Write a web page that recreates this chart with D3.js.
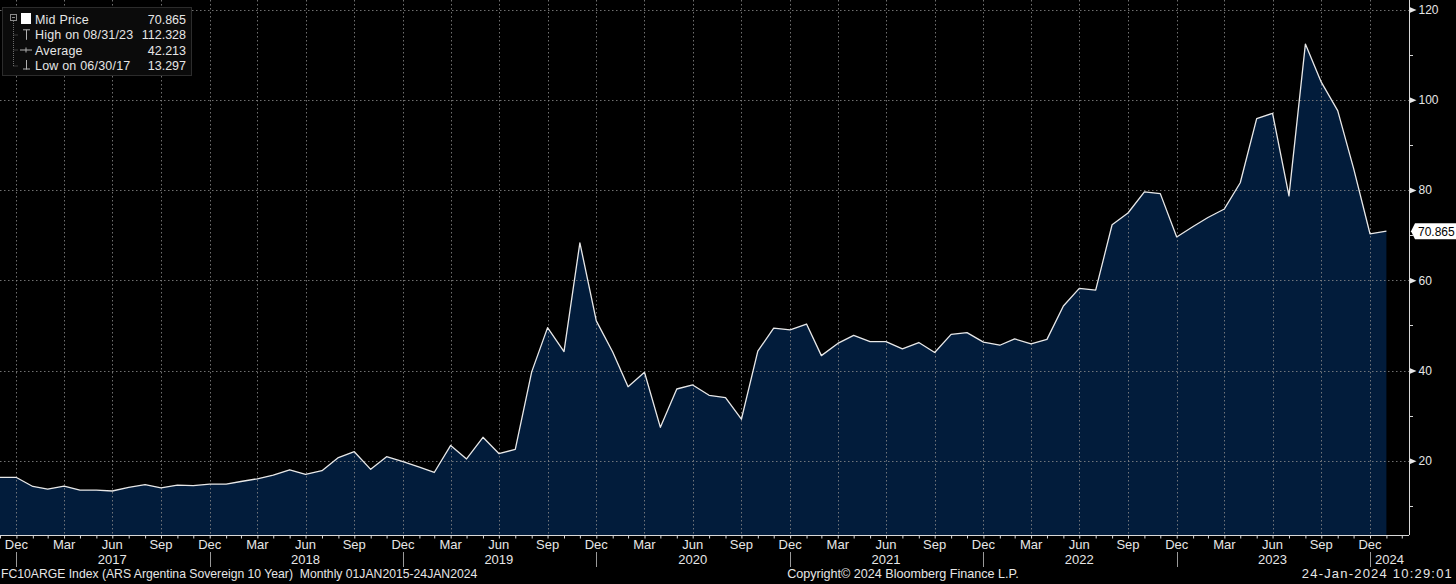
<!DOCTYPE html>
<html>
<head>
<meta charset="utf-8">
<script src="https://cdn.jsdelivr.net/npm/d3@7"></script>
<style>
  body { margin: 0; background: #000; }
  svg { display: block; }
  text { font-family: "Liberation Sans", Arial, sans-serif; fill: #e6e6e6; }
  .narrow { font-family: "Liberation Sans Narrow", "Liberation Sans", Arial, sans-serif; font-stretch: condensed; }
  .grid line { stroke: #8c8c8c; stroke-dasharray: 1.5,2.5; stroke-opacity: 0.8; }
</style>
</head>
<body>
<div id="chart"></div>
<script>
// first month shown, then one value per month (month-end close)
const startMonth = '2016-11-01';
const midPrice = [
  16.3, 16.3,
  14.3, 13.7, 14.4, 13.5, 13.5, 13.297, 14.1, 14.7, 14.0, 14.6, 14.5, 14.8,
  14.8, 15.4, 16.0, 16.8, 18.0, 17.0, 17.8, 20.7, 22.0, 18.1, 20.9, 19.8,
  18.6, 17.4, 23.4, 20.4, 25.2, 21.6, 22.5, 39.7, 49.5, 44.2, 68.3, 51.0,
  44.1, 36.4, 39.6, 27.4, 35.9, 36.8, 34.5, 34.0, 29.2, 44.3, 49.4, 49.0,
  50.3, 43.3, 46.0, 47.8, 46.4, 46.4, 44.8, 46.2, 44.0, 48.0, 48.4, 46.3,
  45.6, 47.0, 45.9, 46.9, 54.3, 58.2, 57.8, 72.3, 74.9, 79.6, 79.2, 69.6,
  71.9, 73.9, 75.8, 81.6, 95.8, 97.0, 78.7, 112.328, 103.9, 97.6, 84.8, 70.3,
  70.865
];
const yTicks = [20, 40, 60, 80, 100, 120];
const yMinorTicks = [10, 30, 50, 70, 90, 110];
const monthNames = ['Jan','Feb','Mar','Apr','May','Jun','Jul','Aug','Sep','Oct','Nov','Dec'];
const years = [2017, 2018, 2019, 2020, 2021, 2022, 2023];
const lastYear = 2024;
const legendLabels = ['Mid Price', 'High on 08/31/23', 'Average', 'Low on 06/30/17'];
const legendValues = ['70.865', '112.328', '42.213', '13.297'];
const lastValue = 70.865;
const footerLeft = 'FC10ARGE Index (ARS Argentina Sovereign 10 Year)  Monthly 01JAN2015-24JAN2024';
const footerMid = 'Copyright\u00A9 2024 Bloomberg Finance L.P.';
const footerRight = '24-Jan-2024 10:29:01';

const monthEnd = d => d3.utcDay.offset(d3.utcMonth.offset(d, 1), -1);

class PriceChart {
  constructor(_config, data) {
    this.config = {
      parentElement: _config.parentElement,
      containerWidth: _config.containerWidth || 1456,
      containerHeight: _config.containerHeight || 584,
      plotWidth: 1409,
      plotHeight: 535
    };
    this.data = data;
    this.initVis();
  }

  initVis() {
    let vis = this;

    vis.svg = d3.select(vis.config.parentElement).append('svg')
        .attr('width', vis.config.containerWidth)
        .attr('height', vis.config.containerHeight)
        .style('background', '#000');

    vis.svg.append('defs').append('clipPath').attr('id', 'plot-clip')
      .append('rect')
        .attr('width', vis.config.plotWidth)
        .attr('height', vis.config.plotHeight);

    // month-end dates, Nov 2016 sits on the left edge, Dec 2023 on the last Dec gridline
    vis.xScale = d3.scaleUtc()
        .domain([monthEnd(new Date('2016-11-01')), monthEnd(new Date('2023-12-01'))])
        .range([0, 1370]);

    vis.yScale = d3.scaleLinear()
        .domain([0, 120])
        .range([551, 9.5]);

    vis.area = d3.area()
        .x(d => vis.xScale(d.date))
        .y0(vis.config.plotHeight)
        .y1(d => vis.yScale(d.value));

    vis.line = d3.line()
        .x(d => vis.xScale(d.date))
        .y(d => vis.yScale(d.value));
  }

  updateVis() {
    let vis = this;
    const first = new Date(startMonth);
    vis.series = vis.data.map((v, i) => ({ date: monthEnd(d3.utcMonth.offset(first, i)), value: v }));

    // every month-end tick inside the plot
    vis.monthTicks = d3.utcMonth.range(new Date('2016-11-01'), new Date('2024-03-01'))
        .map(monthEnd)
        .filter(d => vis.xScale(d) >= 0 && vis.xScale(d) <= vis.config.plotWidth);
    vis.quarterTicks = vis.monthTicks.filter(d => d.getUTCMonth() % 3 === 2);
    vis.yearSplits = vis.monthTicks.filter(d => d.getUTCMonth() === 11);

    vis.renderVis();
  }

  renderVis() {
    let vis = this;
    const W = vis.config.plotWidth, H = vis.config.plotHeight;

    const plot = vis.svg.append('g').attr('clip-path', 'url(#plot-clip)');

    plot.append('path')
        .datum(vis.series)
        .attr('fill', '#021c3b')
        .attr('d', vis.area);

    // dotted grid over the fill
    const grid = plot.append('g').attr('class', 'grid');
    grid.selectAll('.vgrid')
        .data(vis.quarterTicks)
      .enter().append('line')
        .attr('x1', d => Math.round(vis.xScale(d)) + 0.5)
        .attr('x2', d => Math.round(vis.xScale(d)) + 0.5)
        .attr('y1', 0)
        .attr('y2', H);
    grid.selectAll('.hgrid')
        .data(yTicks)
      .enter().append('line')
        .attr('x1', 0)
        .attr('x2', W)
        .attr('y1', d => Math.round(vis.yScale(d)) + 0.5)
        .attr('y2', d => Math.round(vis.yScale(d)) + 0.5);

    plot.append('path')
        .datum(vis.series)
        .attr('fill', 'none')
        .attr('stroke', '#e8e8e8')
        .attr('stroke-width', 1.3)
        .attr('stroke-linejoin', 'round')
        .attr('d', vis.line);

    // bottom axis: month ticks
    const xAxis = d3.axisBottom(vis.xScale)
        .tickValues(vis.monthTicks)
        .tickSize(3)
        .tickSizeOuter(0)
        .tickFormat('');
    const xAxisG = vis.svg.append('g')
        .attr('transform', `translate(0,${H + 0.5})`)
        .call(xAxis);
    xAxisG.select('.domain').attr('d', `M0,0H${W}`).attr('stroke', '#d8d8d8');
    xAxisG.selectAll('.tick line').attr('stroke', '#d8d8d8');

    vis.svg.selectAll('.month-label')
        .data(vis.quarterTicks)
      .enter().append('text')
        .attr('class', 'month-label narrow')
        .attr('x', d => vis.xScale(d))
        .attr('y', 549)
        .attr('text-anchor', 'middle')
        .style('font-size', '13px')
        .text(d => monthNames[d.getUTCMonth()]);

    vis.svg.selectAll('.year-split')
        .data(vis.yearSplits)
      .enter().append('line')
        .attr('x1', d => Math.round(vis.xScale(d)) + 0.5)
        .attr('x2', d => Math.round(vis.xScale(d)) + 0.5)
        .attr('y1', 552)
        .attr('y2', 567)
        .attr('stroke', '#9a9a9a');

    vis.svg.selectAll('.year-label')
        .data(years)
      .enter().append('text')
        .attr('class', 'year-label narrow')
        .attr('x', d => vis.xScale(monthEnd(new Date(`${d}-06-01`))))
        .attr('y', 564)
        .attr('text-anchor', 'middle')
        .style('font-size', '13px')
        .text(d => d);

    vis.svg.append('text')
        .attr('class', 'narrow')
        .attr('x', (vis.xScale(monthEnd(new Date('2023-12-01'))) + W) / 2)
        .attr('y', 564)
        .attr('text-anchor', 'middle')
        .style('font-size', '13px')
        .text(lastYear);

    // right axis
    const yAxis = d3.axisRight(vis.yScale)
        .tickValues(yTicks)
        .tickSize(0)
        .tickPadding(9)
        .tickFormat(d3.format('d'));
    const yAxisG = vis.svg.append('g')
        .attr('transform', `translate(${W + 0.5},0)`)
        .call(yAxis);
    yAxisG.select('.domain').attr('d', `M0,0V${H}`).attr('stroke', '#d8d8d8');
    yAxisG.selectAll('.tick text')
        .attr('fill', '#e6e6e6')
        .style('font-size', '12px')
        .style('font-family', '"Liberation Sans", Arial, sans-serif');
    yAxisG.selectAll('.tick').append('path')
        .attr('d', 'M0,-3L7,0L0,3Z')
        .attr('fill', '#e6e6e6');

    vis.svg.selectAll('.minor-tick')
        .data(yMinorTicks)
      .enter().append('line')
        .attr('x1', W)
        .attr('x2', W + 4)
        .attr('y1', d => Math.round(vis.yScale(d)) + 0.5)
        .attr('y2', d => Math.round(vis.yScale(d)) + 0.5)
        .attr('stroke', '#d8d8d8');

    // last value tag
    const ty = vis.yScale(lastValue);
    const tag = vis.svg.append('g').attr('transform', `translate(${W + 2},${ty})`);
    tag.append('path')
        .attr('d', 'M0,0L4,-8H46V8H4Z')
        .attr('fill', '#fff');
    tag.append('text')
        .attr('x', 7)
        .attr('dy', '0.36em')
        .style('fill', '#000')
        .style('font-size', '12px')
        .text(d3.format('.3f')(lastValue));

    // legend box
    const legend = vis.svg.append('g');
    legend.append('rect')
        .attr('x', 2.5).attr('y', 7.5)
        .attr('width', 189).attr('height', 68)
        .attr('fill', '#0b0b0b')
        .attr('stroke', '#2c2c2c');
    legend.append('rect')
        .attr('x', 10.5).attr('y', 14.5)
        .attr('width', 6).attr('height', 6)
        .attr('fill', 'none').attr('stroke', '#8a8a8a');
    legend.append('line')
        .attr('x1', 12).attr('x2', 15).attr('y1', 17.5).attr('y2', 17.5)
        .attr('stroke', '#8a8a8a');
    legend.append('path')
        .attr('d', 'M13.5,21V66M13.5,35H18M13.5,50H18M13.5,66H18')
        .attr('fill', 'none')
        .attr('stroke', '#6a6a6a')
        .attr('stroke-dasharray', '1,1');

    const rowY = [24, 39.3, 54.5, 69.5];
    legend.append('rect')
        .attr('x', 21).attr('y', 13).attr('width', 10).attr('height', 11)
        .attr('fill', '#fff');
    legend.append('path')
        .attr('d', `M23,${rowY[1] - 9.5}H30M26.5,${rowY[1] - 9.5}V${rowY[1] + 0.5}`)
        .attr('stroke', '#b0b0b0').attr('fill', 'none');
    legend.append('path')
        .attr('d', `M20,${rowY[2] - 4.5}H32M26,${rowY[2] - 7}V${rowY[2] - 2}`)
        .attr('stroke', '#b0b0b0').attr('fill', 'none');
    legend.append('path')
        .attr('d', `M26.5,${rowY[3] - 9.5}V${rowY[3]}M23,${rowY[3] - 0.5}H30`)
        .attr('stroke', '#b0b0b0').attr('fill', 'none');

    legend.selectAll('.legend-label')
        .data(legendLabels)
      .enter().append('text')
        .attr('x', 35)
        .attr('y', (d, i) => rowY[i])
        .style('font-size', '12.5px')
        .style('letter-spacing', '0.2px')
        .text(d => d);
    legend.selectAll('.legend-value')
        .data(legendValues)
      .enter().append('text')
        .attr('x', 186)
        .attr('y', (d, i) => rowY[i])
        .attr('text-anchor', 'end')
        .style('font-size', '12.5px')
        .text(d => d);

    // footer
    vis.svg.append('text').attr('class', 'narrow')
        .attr('x', 1).attr('y', 578)
        .style('font-size', '12.2px').style('white-space', 'pre')
        .text(footerLeft);
    vis.svg.append('text').attr('class', 'narrow')
        .attr('x', 903).attr('y', 578).attr('text-anchor', 'middle')
        .style('font-size', '12.6px')
        .text(footerMid);
    vis.svg.append('text').attr('class', 'narrow')
        .attr('x', 1453).attr('y', 578).attr('text-anchor', 'end')
        .style('font-size', '13px')
        .style('letter-spacing', '1.2px')
        .text(footerRight);
  }
}

const chart = new PriceChart({ parentElement: '#chart' }, midPrice);
chart.updateVis();
</script>
</body>
</html>
